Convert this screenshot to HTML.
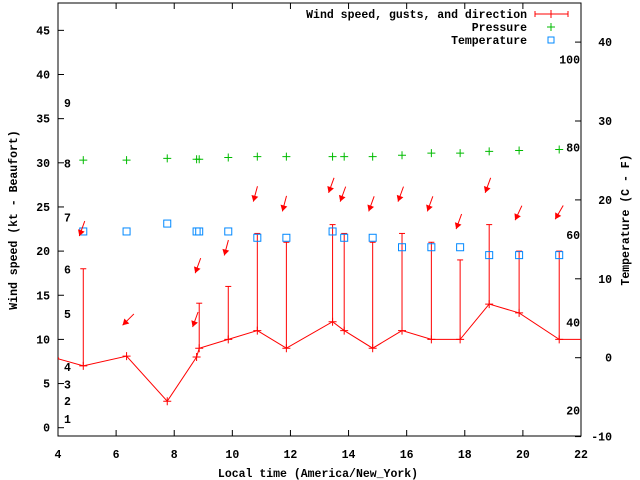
<!DOCTYPE html>
<html><head><meta charset="utf-8"><style>
body{margin:0;background:#fff}
svg{display:block}
text{font-family:"Liberation Mono",monospace;font-size:11.5px;font-weight:bold;fill:#000}
</style></head><body>
<svg id="c" width="640" height="480" xmlns="http://www.w3.org/2000/svg"></svg>
<script>
const times=[3.9,4.87,6.36,7.76,8.77,8.86,9.86,10.86,11.86,13.45,13.85,14.83,15.84,16.85,17.84,18.84,19.87,21.25,22.5];
const speed=[7.9,7,8.1,3,8,9,10,11,9,12,11,9,11,10,10,14,13,10,10];
const gustTimes=[4.87,8.86,9.86,10.86,11.86,13.45,13.85,14.83,15.84,16.85,17.84,18.84,19.87,21.25];
const gusts=[18,14.1,16,22,21,23,22,21,22,21,19,23,20,20];
const obsTimes=[4.87,6.36,7.76,8.77,8.86,9.86,10.86,11.86,13.45,13.85,14.83,15.84,16.85,17.84,18.84,19.87,21.25];
const pressure=[30.3,30.3,30.5,30.4,30.4,30.6,30.7,30.7,30.7,30.7,30.7,30.85,31.1,31.1,31.3,31.4,31.5];
const tempC=[16,16,17,16,16,16,15.2,15.2,16,15.2,15.2,14,14,14,13,13,13];
const arrowY=[21.7,11.6,null,11.4,17.5,19.5,25.6,24.5,26.6,25.6,24.5,25.6,24.5,22.5,26.6,23.5,23.6];
const arrowDir=[20,45,null,20,20,15,15,15,20,20,20,20,20,20,20,25,30];
const xTicks=[4,6,8,10,12,14,16,18,20,22];
const yTicks=[0,5,10,15,20,25,30,35,40,45];
const y2Ticks=[-10,0,10,20,30,40];
const beaufortLabels=["1","2","3","4","5","6","7","8","9"];
const beaufortY=[1,3,4.9,6.9,12.9,17.9,23.8,29.9,36.8];
const fLabels=["20","40","60","80","100"];
const fVals=[20,40,60,80,100];

const L=58,R=581,T=3,B=436;
const X=h=>L+(h-4)*(R-L)/18;
const Y=v=>427.7-v*8.83;
const Y2=c=>357.7-c*7.89;
const svg=document.getElementById('c');
const NS='http://www.w3.org/2000/svg';
function mk(tag,a,name,parent){const e=document.createElementNS(NS,tag);for(const k in a)e.setAttribute(k,a[k]);


(parent||svg).appendChild(e);return e;}
function txt(x,y,s,anchor,name,extra){const t=mk('text',Object.assign({x:x,y:y,'text-anchor':anchor||'start'},extra||{}),name);t.textContent=s;return t;}

// clip
const defs=mk('defs',{},'defs');
const cp=mk('clipPath',{id:'pc'},'plot-clip',defs);
mk('rect',{x:L,y:T,width:R-L,height:B-T},'plot-clip-rect',cp);

// axes frame
mk('rect',{x:L,y:T,width:R-L,height:B-T,fill:'none',stroke:'#000','stroke-width':1},'plot-frame');
xTicks.forEach(h=>{const x=X(h);
 mk('line',{x1:x,y1:B,x2:x,y2:B-6,stroke:'#000'},'x-tick');
 mk('line',{x1:x,y1:T,x2:x,y2:T+6,stroke:'#000'},'x-tick-top');
 txt(x,458,String(h),'middle','x-tick-label');});
yTicks.forEach(v=>{const y=Y(v);
 mk('line',{x1:L,y1:y,x2:L+6,y2:y,stroke:'#000'},'y-tick');
 txt(50,y+4,String(v),'end','y-tick-label');});
y2Ticks.forEach(v=>{const y=Y2(v);
 mk('line',{x1:R,y1:y,x2:R-6,y2:y,stroke:'#000'},'y2-tick');
 txt(612,y+4,String(v),'end','y2-tick-label');});
beaufortLabels.forEach((s,i)=>txt(64,Y(beaufortY[i])+4,s,'start','beaufort-label'));
fLabels.forEach((s,i)=>txt(580,Y2((fVals[i]-32)*5/9)+4,s,'end','fahrenheit-label'));

txt(318,477,'Local time (America/New_York)','middle','x-axis-title');
txt(0,0,'Wind speed (kt - Beaufort)','middle','y-axis-title',{transform:'translate(17,220) rotate(-90)'});
txt(0,0,'Temperature (C - F)','middle','y2-axis-title',{transform:'translate(629,220) rotate(-90)'});

const g=mk('g',{'clip-path':'url(#pc)'},'plot-area');
// gust bars
gustTimes.forEach((h,i)=>{const x=X(h),yt=Y(gusts[i]);
 let si=times.indexOf(h);const yb=Y(speed[si]);
 mk('line',{x1:x,y1:yb,x2:x,y2:yt,stroke:'#f00'},'gust-bar',g);
 mk('line',{x1:x-3,y1:yt,x2:x+3,y2:yt,stroke:'#f00'},'gust-cap',g);});
// speed line
mk('polyline',{points:times.map((h,i)=>X(h)+','+Y(speed[i])).join(' '),fill:'none',stroke:'#f00'},'wind-speed-line',g);
times.forEach((h,i)=>{const x=X(h),y=Y(speed[i]);
 mk('path',{d:`M${x-4},${y}h8M${x},${y-4}v8`,stroke:'#f00'},'wind-speed-point',g);});
// pressure
obsTimes.forEach((h,i)=>{const x=X(h),y=Y(pressure[i]);
 mk('path',{d:`M${x-4},${y}h8M${x},${y-4}v8`,stroke:'#0b0'},'pressure-point',g);});
// temperature
obsTimes.forEach((h,i)=>{const x=X(h),y=Y2(tempC[i]);
 mk('rect',{x:x-3.5,y:y-3.5,width:7,height:7,fill:'none',stroke:'#08f'},'temperature-point',g);});
// wind direction arrows
obsTimes.forEach((h,i)=>{if(arrowY[i]==null)return;const x=X(h)-4,y=Y(arrowY[i]);
 const a=arrowDir[i]*Math.PI/180, dx=Math.sin(a), dy=-Math.cos(a);
 const tx=x+dx*16, ty=y+dy*16;
 mk('line',{x1:x,y1:y,x2:tx,y2:ty,stroke:'#f00'},'wind-direction-shaft',g);
 const px=-dy, py=dx;
 const bx=x+dx*6, by=y+dy*6;
 mk('polygon',{points:`${x},${y} ${bx+px*3.5},${by+py*3.5} ${bx-px*3.5},${by-py*3.5}`,fill:'#f00'},'wind-direction-head',g);});

// legend
txt(527,18,'Wind speed, gusts, and direction','end','legend-wind-label');
mk('path',{d:'M535,14h33M535,11v6M568,11v6M551,10v8',stroke:'#f00'},'legend-wind-sample');
txt(527,31,'Pressure','end','legend-pressure-label');
mk('path',{d:'M547,27h8M551,23v8',stroke:'#0b0'},'legend-pressure-sample');
txt(527,44,'Temperature','end','legend-temperature-label');
mk('rect',{x:548,y:37,width:6,height:6,fill:'none',stroke:'#08f'},'legend-temperature-sample');
</script>
</body></html>
